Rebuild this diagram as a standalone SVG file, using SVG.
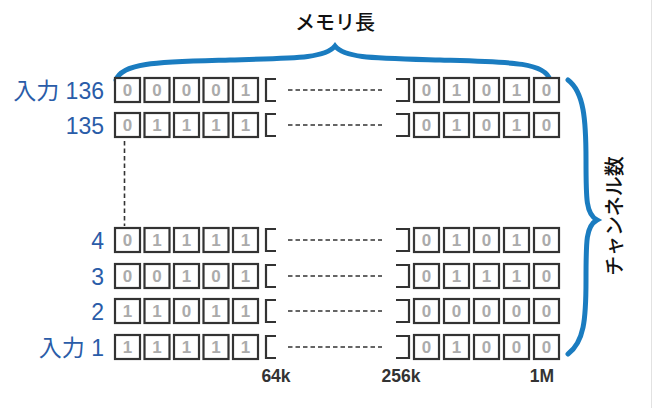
<svg xmlns="http://www.w3.org/2000/svg" width="654" height="408" viewBox="0 0 654 408">
<style>
.b{fill:#fff;stroke:#333;stroke-width:2.2}
.d{font-family:"Liberation Sans",Arial,sans-serif;font-size:17px;font-weight:bold;fill:#ababab;text-anchor:middle}
.br{fill:none;stroke:#333;stroke-width:2.2}
.dash{stroke:#333;stroke-width:1.6;stroke-dasharray:4.5 3}
.lbl{font-family:"Liberation Sans","Noto Sans CJK JP",sans-serif;font-size:23px;fill:#2a5ca8;text-anchor:end}
.ax{font-family:"Liberation Sans",Arial,sans-serif;font-size:17.5px;font-weight:bold;fill:#333;text-anchor:middle}
.t{font-family:"Noto Sans CJK JP",sans-serif;font-size:20px;font-weight:500;fill:#111;text-anchor:middle}
.brace{fill:none;stroke:#1a7cc0;stroke-width:5;stroke-linecap:round}
</style>
<defs>
<g id="box"><rect class="b" x="0" y="0" width="25" height="24"/></g>
<g id="lb"><path class="br" d="M276 1 H266 V23 H276"/></g>
<g id="rb"><path class="br" d="M396 1 H409 V23 H396"/></g>
<g id="dl"><line class="dash" x1="288" y1="12" x2="382" y2="12"/></g>
<g id="frame">
<use href="#box" x="115"/><use href="#box" x="144.5"/><use href="#box" x="174"/><use href="#box" x="203.5"/><use href="#box" x="233"/>
<use href="#lb"/><use href="#dl"/><use href="#rb"/>
<use href="#box" x="414"/><use href="#box" x="444"/><use href="#box" x="474"/><use href="#box" x="504"/><use href="#box" x="534"/>
</g>
</defs>
<rect width="654" height="408" fill="#fff"/>
<line x1="651.5" y1="0" x2="651.5" y2="408" stroke="#e2e2e2" stroke-width="1"/>

<g id="title"><text class="t" x="335" y="30">メモリ長</text></g>
<g id="brace-top"><path class="brace" d="M116 80 C122 62 160 62 230 60 C300 58 325 58 335 46 C345 58 370 58 440 60 C510 62 545 62 550 80"/></g>
<g id="brace-right"><path class="brace" d="M568 80 C584 92 586 120 586 160 C586 200 586 214 597 220 C586 226 586 240 586 280 C586 320 584 342 568 354"/></g>
<g id="channels"><text class="t" transform="translate(622,216) rotate(-90)" x="0" y="0">チャンネル数</text></g>

<g id="row136" transform="translate(0,78)">
<use href="#frame"/>
<text class="d" x="127.5" y="18">0</text><text class="d" x="157" y="18">0</text><text class="d" x="186.5" y="18">0</text><text class="d" x="216" y="18">0</text><text class="d" x="245.5" y="18">1</text>
<text class="d" x="426.5" y="18">0</text><text class="d" x="456.5" y="18">1</text><text class="d" x="486.5" y="18">0</text><text class="d" x="516.5" y="18">1</text><text class="d" x="546.5" y="18">0</text>
<text class="lbl" x="104" y="20.5">入力 136</text>
</g>
<g id="row135" transform="translate(0,113)">
<use href="#frame"/>
<text class="d" x="127.5" y="18">0</text><text class="d" x="157" y="18">1</text><text class="d" x="186.5" y="18">1</text><text class="d" x="216" y="18">1</text><text class="d" x="245.5" y="18">1</text>
<text class="d" x="426.5" y="18">0</text><text class="d" x="456.5" y="18">1</text><text class="d" x="486.5" y="18">0</text><text class="d" x="516.5" y="18">1</text><text class="d" x="546.5" y="18">0</text>
<text class="lbl" x="104" y="20.5">135</text>
</g>
<g id="row4" transform="translate(0,228)">
<use href="#frame"/>
<text class="d" x="127.5" y="18">0</text><text class="d" x="157" y="18">1</text><text class="d" x="186.5" y="18">1</text><text class="d" x="216" y="18">1</text><text class="d" x="245.5" y="18">1</text>
<text class="d" x="426.5" y="18">0</text><text class="d" x="456.5" y="18">1</text><text class="d" x="486.5" y="18">0</text><text class="d" x="516.5" y="18">1</text><text class="d" x="546.5" y="18">0</text>
<text class="lbl" x="104" y="20.5">4</text>
</g>
<g id="row3" transform="translate(0,264)">
<use href="#frame"/>
<text class="d" x="127.5" y="18">0</text><text class="d" x="157" y="18">0</text><text class="d" x="186.5" y="18">1</text><text class="d" x="216" y="18">0</text><text class="d" x="245.5" y="18">1</text>
<text class="d" x="426.5" y="18">0</text><text class="d" x="456.5" y="18">1</text><text class="d" x="486.5" y="18">1</text><text class="d" x="516.5" y="18">1</text><text class="d" x="546.5" y="18">0</text>
<text class="lbl" x="104" y="20.5">3</text>
</g>
<g id="row2" transform="translate(0,299)">
<use href="#frame"/>
<text class="d" x="127.5" y="18">1</text><text class="d" x="157" y="18">1</text><text class="d" x="186.5" y="18">0</text><text class="d" x="216" y="18">1</text><text class="d" x="245.5" y="18">1</text>
<text class="d" x="426.5" y="18">0</text><text class="d" x="456.5" y="18">0</text><text class="d" x="486.5" y="18">0</text><text class="d" x="516.5" y="18">0</text><text class="d" x="546.5" y="18">0</text>
<text class="lbl" x="104" y="20.5">2</text>
</g>
<g id="row1" transform="translate(0,335)">
<use href="#frame"/>
<text class="d" x="127.5" y="18">1</text><text class="d" x="157" y="18">1</text><text class="d" x="186.5" y="18">1</text><text class="d" x="216" y="18">1</text><text class="d" x="245.5" y="18">1</text>
<text class="d" x="426.5" y="18">0</text><text class="d" x="456.5" y="18">1</text><text class="d" x="486.5" y="18">0</text><text class="d" x="516.5" y="18">0</text><text class="d" x="546.5" y="18">0</text>
<text class="lbl" x="104" y="20.5">入力 1</text>
</g>

<g id="connectors">
<line class="dash" x1="124.5" y1="141" x2="124.5" y2="226" stroke-dasharray="4 3"/>
</g>

<g id="axis">
<text class="ax" x="276" y="382">64k</text>
<text class="ax" x="401" y="382">256k</text>
<text class="ax" x="542" y="382">1M</text>
</g>
</svg>
